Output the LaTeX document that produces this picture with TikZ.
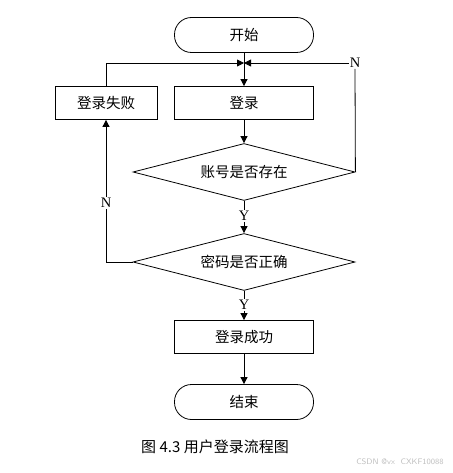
\documentclass[tikz,border=0pt]{standalone}
\usepackage{fontspec}
\setmainfont{Liberation Serif}
\newfontfamily\cjk{Noto Sans CJK SC}
\usetikzlibrary{shapes.geometric,arrows.meta}
\tikzstyle{term}=[draw, line width=0.8pt, rounded corners=17pt, minimum width=139pt, minimum height=35pt, font=\cjk\fontsize{14.5}{16}\selectfont]
\tikzstyle{proc}=[draw, line width=0.8pt, minimum width=139pt, minimum height=33pt, font=\cjk\fontsize{14.5}{16}\selectfont]
\tikzstyle{cond}=[draw, diamond, aspect=4, line width=0.8pt, inner sep=0pt, minimum width=222pt, minimum height=57pt, font=\cjk\fontsize{14.5}{16}\selectfont]
\tikzstyle{yn}=[inner sep=1pt, font=\fontsize{14.5}{16}\selectfont]
\tikzstyle{arr}=[line width=0.8pt, -{Triangle[length=7pt,width=7pt]}]
\tikzstyle{ln}=[line width=0.8pt]

\begin{document}
\begin{tikzpicture}[x=1pt,y=-1pt]
  \useasboundingbox (0,0) rectangle (452,473);
  \node[term] (start) at (244,35) {开始};
  \node[proc] (login) at (244,103) {登录};
  \node[proc, minimum width=102pt] (fail) at (106,103) {登录失败};
  \node[cond] (acct) at (244,172) {账号是否存在};
  \node[cond] (pwd) at (244,262) {密码是否正确};
  \node[proc] (ok) at (244,337) {登录成功};
  \node[term] (end) at (244,402) {结束};
  \coordinate (merge) at (244,63);
  \node[yn] (n1) at (355,63) {N};
  \node[yn] (n2) at (106,203) {N};
  \node[yn] (y1) at (244,216) {Y};
  \node[yn] (y2) at (244,305) {Y};

  \draw[arr] (start) -- (login);
  \draw[arr] (fail.north) |- (merge);
  \draw[arr] (n1.west) -- (merge);
  \draw[ln] (acct.east) -- (n1.south);
  \draw[arr] (login) -- (acct);
  \draw[ln] (acct.south) -- (y1.north);
  \draw[arr] (y1.south) -- (pwd.north);
  \draw[ln] (pwd.west) -| (n2.south);
  \draw[arr] (n2.north) -- (fail.south);
  \draw[ln] (pwd.south) -- (y2.north);
  \draw[arr] (y2.south) -- (ok.north);
  \draw[arr] (ok) -- (end);

  \node[font=\cjk\fontsize{15}{17}\selectfont] (cap) at (215,447) {图 4.3 用户登录流程图};
  \node[font=\sffamily\fontsize{8}{10}\selectfont, text=black!25] (wm) at (400,462) {CSDN @vx\ \ CXKF10088};
\end{tikzpicture}
\end{document}
